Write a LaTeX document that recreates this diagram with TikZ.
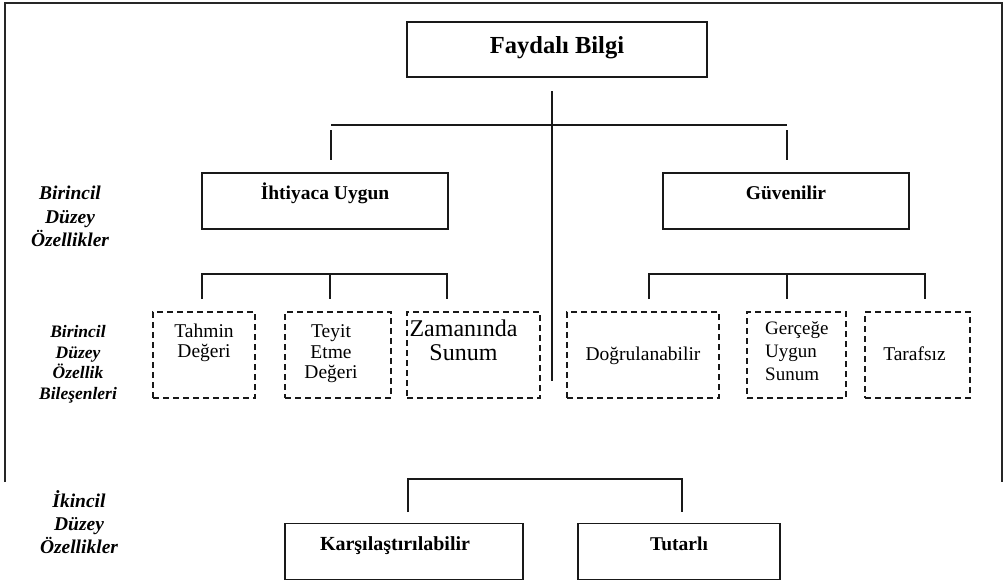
\documentclass[tikz,border=0pt]{standalone}
\usepackage{fontspec}
\setmainfont{Liberation Serif}
\begin{document}
\begin{tikzpicture}[x=1pt,y=-1pt,
  frame/.style={draw=black!85, line width=1.3pt},
  conn/.style={draw=black!90, line width=1.2pt},
  titlebox/.style={draw=black!90, line width=1.5pt, inner sep=0pt,
    font=\bfseries\fontsize{19.5}{22}\selectfont,
    text height=26pt, text depth=29pt, minimum height=56pt},
  dbox/.style={draw=black!90, line width=1.2pt, dash pattern=on 6pt off 4pt,
    minimum height=86pt, inner sep=0pt},
  dtext/.style={font=\fontsize{19.5}{20.5}\selectfont, align=center, inner sep=0pt},
  side/.style={font=\bfseries\itshape\fontsize{19.5}{23.5}\selectfont, align=center, inner sep=0pt}
]
\useasboundingbox (0,0) rectangle (1007,581);

% open frame around the upper part
\draw[frame] (5,482) -- (5,3) -- (1002,3) -- (1002,482);

% top node
\node[titlebox, minimum width=300pt, minimum height=55pt, text height=31pt, text depth=24pt,
  font=\bfseries\fontsize{24.5}{27}\selectfont] (fb) at (557,49.5) {Faydalı Bilgi};

% first level qualities
\node[titlebox, minimum width=246pt] (iu) at (325,201) {İhtiyaca Uygun};
\node[titlebox, minimum width=246pt] (gv) at (786,201) {Güvenilir};

% components
\node[dbox, minimum width=102pt] (td) at (204,355) {};
\node[dbox, minimum width=106pt] (te) at (338,355) {};
\node[dbox, minimum width=133pt] (zs) at (473.5,355) {};
\node[dbox, minimum width=152pt] (dg) at (643,355) {};
\node[dbox, minimum width=99pt]  (gu) at (796.5,355) {};
\node[dbox, minimum width=105pt] (tf) at (917.5,355) {};

\node[dtext, anchor=north] (td-t) at (204,323.5) {Tahmin\\Değeri};
\node[dtext, anchor=north] (te-t) at (331,324.5) {Teyit\\Etme\\Değeri};
\node[dtext, anchor=north, font=\fontsize{24}{24}\selectfont] (zs-t) at (463.5,320) {Zamanında\\Sunum};
\node[dtext, anchor=base] (dg-t) at (643,360) {Doğrulanabilir};
\node[dtext, anchor=north west, align=left, font=\fontsize{19}{23}\selectfont] (gu-t) at (765,321) {Gerçeğe\\Uygun\\Sunum};
\node[dtext, anchor=base] (tf-t) at (914.5,360) {Tarafsız};

% second level qualities
\node[titlebox, minimum width=238pt] (kl) at (404,551.5) {};
\node[titlebox, anchor=base, text height=0pt, text depth=0pt, minimum height=0pt, draw=none,
  font=\bfseries\fontsize{20}{22}\selectfont] (kl-t) at (395,550) {Karşılaştırılabilir};
\node[titlebox, minimum width=202pt] (tt) at (679,551.5) {Tutarlı};

% row captions
\node[side, anchor=north] (cap1) at (70,186) {Birincil\\Düzey\\Özellikler};
\node[side, anchor=north, font=\bfseries\itshape\fontsize{17.5}{20.5}\selectfont] (cap2) at (78,325.5) {Birincil\\Düzey\\Özellik\\Bileşenleri};
\node[side, anchor=north, font=\bfseries\itshape\fontsize{19.5}{23}\selectfont] (cap3) at (79,490) {İkincil\\Düzey\\Özellikler};

% bracket under the top node
\coordinate (stem-a) at (552,91);
\coordinate (stem-b) at (552,381);
\coordinate (bar-l) at (331,125);
\coordinate (bar-r) at (787,125);
\draw[conn] (stem-a) -- (stem-b);
\draw[conn] (bar-l) -- (bar-r);
\draw[conn] ([yshift=-5pt]bar-l) -- (bar-l |- 0,160);
\draw[conn] ([yshift=-5pt]bar-r) -- (bar-r |- 0,160);

% bracket over the left components
\coordinate (lb-l) at (202,274);
\coordinate (lb-m) at (330,274);
\coordinate (lb-r) at (447,274);
\draw[conn] (lb-l |- 0,299) -- (lb-l) -- (lb-r) -- (lb-r |- 0,299);
\draw[conn] (lb-m) -- (lb-m |- 0,299);

% bracket over the right components
\coordinate (rb-l) at (649,274);
\coordinate (rb-m) at (787,274);
\coordinate (rb-r) at (925,274);
\draw[conn] (rb-l |- 0,299) -- (rb-l) -- (rb-r) -- (rb-r |- 0,299);
\draw[conn] (rb-m) -- (rb-m |- 0,299);

% bracket over the second level
\coordinate (bb-l) at (408,479);
\coordinate (bb-r) at (682,479);
\draw[conn] (bb-l |- 0,512) -- (bb-l) -- (bb-r) -- (bb-r |- 0,512);
\end{tikzpicture}
\end{document}
